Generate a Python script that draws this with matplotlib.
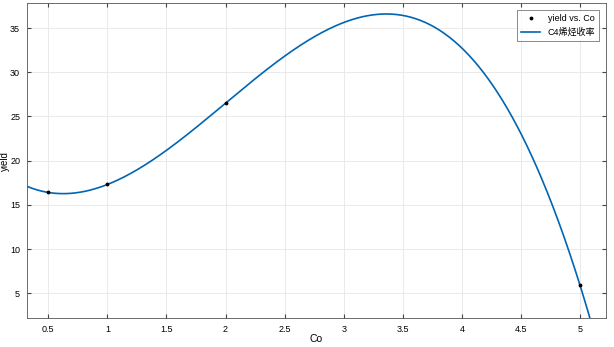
import numpy as np
import matplotlib
matplotlib.use("Agg")
import matplotlib.pyplot as plt

plt.rcParams['font.family'] = ['Liberation Sans', 'Noto Sans CJK SC']

co = [0.5, 1.0, 2.0, 5.0]
yield_vals = [16.4, 17.3, 26.5, 5.9]
xticks = [0.5, 1, 1.5, 2, 2.5, 3, 3.5, 4, 4.5, 5]
yticks = [5, 10, 15, 20, 25, 30, 35]
xlim = (0.32, 5.22)
ylim = (2.2, 37.8)

coef = np.polyfit(co, yield_vals, 3)
xs = np.linspace(xlim[0], xlim[1], 600)
ys = np.polyval(coef, xs)

fig = plt.figure(figsize=(6.14, 3.47), dpi=100)
ax = fig.add_axes([0.044, 0.0836, 0.943, 0.907])
ax.plot(co, yield_vals, '.', color='black', markersize=3.5, label='yield vs. Co', zorder=3)
ax.plot(xs, ys, '-', color='#0066B3', linewidth=1.2, label='C4烯烃收率', zorder=2)
ax.set_xlim(*xlim)
ax.set_ylim(*ylim)
ax.set_xticks(xticks)
ax.set_xticklabels(['0.5', '1', '1.5', '2', '2.5', '3', '3.5', '4', '4.5', '5'])
ax.set_yticks(yticks)
ax.grid(True, color='#e6e6e6', linewidth=0.6)
ax.set_axisbelow(True)
ax.tick_params(direction='in', top=True, right=True, labelsize=6.5, length=3, color='#444444', pad=5)
for s in ax.spines.values():
    s.set_color('#555555')
    s.set_linewidth(0.6)
ax.set_xlabel('Co', fontsize=7.5)
ax.set_ylabel('yield', fontsize=7)
ax.xaxis.set_label_coords(0.5, -0.052)
ax.yaxis.set_label_coords(-0.029, 0.5)
leg = ax.legend(loc='upper right', fontsize=6.5, frameon=True, fancybox=False,
                edgecolor='#555555', borderpad=0.4, handlelength=2.2, borderaxespad=0.8)
leg.get_frame().set_linewidth(0.6)
fig.savefig('out.png', dpi=100)
